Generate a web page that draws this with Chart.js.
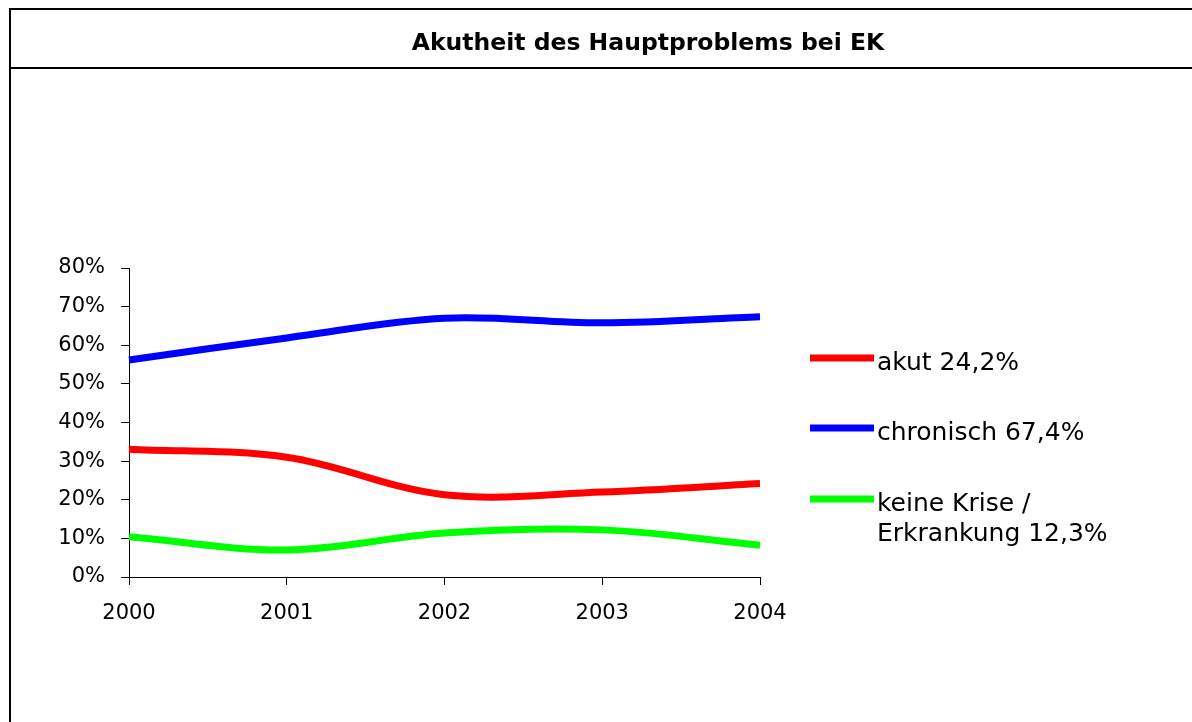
<!DOCTYPE html>
<html>
<head>
<meta charset="utf-8">
<script src="https://cdn.jsdelivr.net/npm/chart.js@4.4.0/dist/chart.umd.min.js"></script>
<style>
  html, body { margin: 0; padding: 0; background: #fff; }
  #wrap { width: 1192px; height: 722px; position: relative; }
</style>
</head>
<body>
<div id="wrap"><canvas id="myChart" width="1192" height="722"></canvas></div>
<script>
const years = ['2000', '2001', '2002', '2003', '2004'];
const akut = [33.1, 31.0, 21.3, 22.0, 24.2];
const chronisch = [56.2, 61.9, 67.0, 65.8, 67.4];
const keineKrise = [10.4, 7.0, 11.4, 12.2, 8.2];
const seriesNames = ['akut 24,2%', 'chronisch 67,4%', 'keine Krise /\nErkrankung 12,3%'];
const yTicks = [0, 10, 20, 30, 40, 50, 60, 70, 80];
const chartTitle = 'Akutheit des Hauptproblems bei EK';

const FONT = '"DejaVu Sans", Verdana, sans-serif';

// frame + title box, drawn before the chart
const framePlugin = {
  id: 'frame',
  beforeDraw(chart) {
    const ctx = chart.ctx;
    ctx.save();
    ctx.strokeStyle = '#000';
    ctx.lineWidth = 2;
    ctx.beginPath();
    ctx.moveTo(10, 722);
    ctx.lineTo(10, 9);
    ctx.lineTo(1192, 9);
    ctx.moveTo(10, 68);
    ctx.lineTo(1192, 68);
    ctx.stroke();
    ctx.fillStyle = '#000';
    ctx.font = 'bold 23.5px "DejaVu Sans", sans-serif';
    ctx.textAlign = 'center';
    ctx.textBaseline = 'middle';
    ctx.fillText(chartTitle, 648, 44);
    ctx.restore();
  }
};

// legend on the right, one row per dataset
const legendPlugin = {
  id: 'sideLegend',
  afterDraw(chart) {
    const ctx = chart.ctx;
    const rowsY = [358, 428, 499];
    ctx.save();
    ctx.font = '25px ' + FONT;
    ctx.textBaseline = 'middle';
    ctx.textAlign = 'left';
    chart.data.datasets.forEach((ds, i) => {
      const y = rowsY[i];
      ctx.strokeStyle = ds.borderColor;
      ctx.lineWidth = 7;
      ctx.beginPath();
      ctx.moveTo(810, y);
      ctx.lineTo(874, y);
      ctx.stroke();
      ctx.fillStyle = '#000';
      ds.label.split('\n').forEach((line, j) => {
        ctx.fillText(line, 877, y + 5 + j * 30);
      });
    });
    ctx.restore();
  }
};

const ctx = document.getElementById('myChart');
new Chart(ctx, {
  type: 'line',
  data: {
    labels: years,
    datasets: [
      { label: seriesNames[0], data: akut, borderColor: '#ff0000' },
      { label: seriesNames[1], data: chronisch, borderColor: '#0000ff' },
      { label: seriesNames[2], data: keineKrise, borderColor: '#00ff00' }
    ]
  },
  options: {
    responsive: false,
    animation: false,
    layout: { padding: { left: 0, top: 268, right: 432, bottom: 85 } },
    elements: {
      line: { borderWidth: 7, tension: 0.35, fill: false, borderCapStyle: 'butt' },
      point: { radius: 0, hoverRadius: 0 }
    },
    plugins: {
      legend: { display: false },
      title: { display: false },
      tooltip: { enabled: false }
    },
    scales: {
      x: {
        offset: false,
        grid: { display: true, drawOnChartArea: false, drawTicks: true, tickLength: 8, color: '#000', offset: false },
        border: { display: true, color: '#000', width: 1 },
        ticks: { color: '#000', font: { family: FONT, size: 21 }, padding: 16, maxRotation: 0 },
        afterFit(scale) { scale.height = 60; }
      },
      y: {
        min: 0,
        max: 80,
        afterBuildTicks(scale) { scale.ticks = yTicks.map(v => ({ value: v })); },
        grid: { display: true, drawOnChartArea: false, drawTicks: true, tickLength: 8, color: '#000' },
        border: { display: true, color: '#000', width: 1 },
        ticks: { color: '#000', font: { family: FONT, size: 21 }, padding: 16, callback: v => v + '%' },
        afterFit(scale) { scale.width = 129; }
      }
    }
  },
  plugins: [framePlugin, legendPlugin]
});
</script>
</body>
</html>
